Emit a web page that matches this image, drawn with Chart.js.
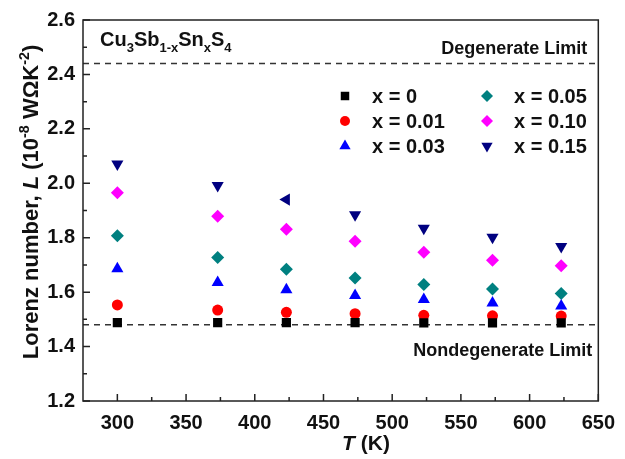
<!DOCTYPE html>
<html>
<head>
<meta charset="utf-8">
<script src="https://cdn.jsdelivr.net/npm/chart.js@4.4.1/dist/chart.umd.min.js"></script>
<style>
  html, body { margin: 0; padding: 0; background: #ffffff; }
  #chart { display: block; }
</style>
</head>
<body>
<canvas id="chart" width="625" height="459"></canvas>
<script>
/* ── Data ────────────────────────────────────────────────── */
const temps = [300, 373, 423, 473, 523, 573, 623];

const L_x000 = [1.488, 1.488, 1.488, 1.488, 1.487, 1.487, 1.487];
const L_x001 = [1.553, 1.534, 1.526, 1.521, 1.515, 1.513, 1.512];
const L_x003 = [1.686, 1.635, 1.609, 1.588, 1.573, 1.560, 1.549];
const L_x005 = [1.807, 1.727, 1.684, 1.652, 1.628, 1.612, 1.595];
const L_x010 = [1.965, 1.879, 1.831, 1.787, 1.747, 1.717, 1.697];
const L_x015 = [2.071, 1.992, 1.940, 1.884, 1.835, 1.802, 1.768];

// the x = 0.15 marker at 423 K is a left-pointing triangle in the original
const rot_x015 = [180, 180, 270, 180, 180, 180, 180];

const seriesLabels = ['x = 0', 'x = 0.01', 'x = 0.03', 'x = 0.05', 'x = 0.10', 'x = 0.15'];

const xTicks = [300, 350, 400, 450, 500, 550, 600, 650];
const xMinor = [325, 375, 425, 475, 525, 575, 625];
const yTicks = [1.2, 1.4, 1.6, 1.8, 2.0, 2.2, 2.4, 2.6];
const yMinor = [1.3, 1.5, 1.7, 1.9, 2.1, 2.3, 2.5];

const degenerateLimit = 2.44;
const nondegenerateLimit = 1.48;

/* ── Theme ───────────────────────────────────────────────── */
const FONT = "'Liberation Sans', Arial, sans-serif";
const AXIS = '#222222';
const DASH = '#333333';

const styles = [
  { color: '#000000', pointStyle: 'rect',     radius: 6.5, rotation: 0 },
  { color: '#ff0000', pointStyle: 'circle',   radius: 5.5, rotation: 0 },
  { color: '#0000ff', pointStyle: 'triangle', radius: 7,   rotation: 0 },
  { color: '#008080', pointStyle: 'rectRot',  radius: 6.5, rotation: 0 },
  { color: '#ff00ff', pointStyle: 'rectRot',  radius: 6.5, rotation: 0 },
  { color: '#000080', pointStyle: 'triangle', radius: 7,   rotation: 180 },
];
const seriesData = [L_x000, L_x001, L_x003, L_x005, L_x010, L_x015];

const datasets = seriesData.map((vals, i) => ({
  label: seriesLabels[i],
  data: temps.map((t, k) => ({ x: t, y: vals[k] })),
  showLine: false,
  pointStyle: styles[i].pointStyle,
  pointRadius: styles[i].radius,
  pointHoverRadius: styles[i].radius,
  pointRotation: i === 5 ? rot_x015 : styles[i].rotation,
  backgroundColor: styles[i].color,
  borderColor: styles[i].color,
  pointBorderWidth: 0,
}));

/* ── Text with sub/superscripts: parts = [[text, kind, italic]] ── */
function drawRich(ctx, parts, x, y, size) {
  let cx = x;
  parts.forEach(([txt, kind, italic]) => {
    let fs = size, dy = 0;
    if (kind === 'sub') { fs = size * 0.65; dy = size * 0.28; }
    if (kind === 'sup') { fs = size * 0.65; dy = -size * 0.42; }
    ctx.font = `${italic ? 'italic ' : ''}bold ${fs}px ${FONT}`;
    ctx.fillText(txt, cx, y + dy);
    cx += ctx.measureText(txt).width;
  });
  return cx - x;
}
function measureRich(ctx, parts, size) {
  let w = 0;
  parts.forEach(([txt, kind, italic]) => {
    const fs = kind ? size * 0.65 : size;
    ctx.font = `${italic ? 'italic ' : ''}bold ${fs}px ${FONT}`;
    w += ctx.measureText(txt).width;
  });
  return w;
}

/* ── Plugin: frame, inward ticks, limits, legend, titles ─── */
const decor = {
  id: 'decor',
  beforeDatasetsDraw(chart) {
    const { ctx, chartArea: a, scales: { y } } = chart;
    ctx.save();
    // dashed limit lines
    ctx.strokeStyle = DASH;
    ctx.lineWidth = 1.5;
    ctx.setLineDash([6, 5]);
    [degenerateLimit, nondegenerateLimit].forEach(v => {
      const py = y.getPixelForValue(v);
      ctx.beginPath();
      ctx.moveTo(a.left, py);
      ctx.lineTo(a.right, py);
      ctx.stroke();
    });
    ctx.setLineDash([]);

    // limit labels
    ctx.fillStyle = '#111';
    ctx.textAlign = 'right';
    ctx.textBaseline = 'alphabetic';
    ctx.font = `bold 18px ${FONT}`;
    ctx.fillText('Degenerate Limit', a.right - 11, y.getPixelForValue(degenerateLimit) - 10);
    ctx.fillText('Nondegenerate Limit', a.right - 6, y.getPixelForValue(nondegenerateLimit) + 31);

    // compound name
    ctx.textAlign = 'left';
    drawRich(ctx, [['Cu'], ['3', 'sub'], ['Sb'], ['1-x', 'sub'], ['Sn'], ['x', 'sub'], ['S'], ['4', 'sub']],
      a.left + 17, a.top + 26, 20);
    ctx.restore();
  },
  afterDraw(chart) {
    const { ctx, chartArea: a, scales: { x, y } } = chart;
    ctx.save();
    // frame
    ctx.strokeStyle = AXIS;
    ctx.lineWidth = 1.5;
    ctx.strokeRect(a.left, a.top, a.right - a.left, a.bottom - a.top);

    // inward ticks (bottom and left only)
    ctx.beginPath();
    xTicks.forEach(v => { const px = x.getPixelForValue(v); ctx.moveTo(px, a.bottom); ctx.lineTo(px, a.bottom - 7); });
    xMinor.forEach(v => { const px = x.getPixelForValue(v); ctx.moveTo(px, a.bottom); ctx.lineTo(px, a.bottom - 4); });
    yTicks.forEach(v => { const py = y.getPixelForValue(v); ctx.moveTo(a.left, py); ctx.lineTo(a.left + 7, py); });
    yMinor.forEach(v => { const py = y.getPixelForValue(v); ctx.moveTo(a.left, py); ctx.lineTo(a.left + 4, py); });
    ctx.stroke();

    // legend, two columns of three
    const colX = [a.left + 262, a.left + 404];
    const rowY = [96, 121, 146];
    ctx.textBaseline = 'middle';
    ctx.textAlign = 'left';
    styles.forEach((s, i) => {
      const cx = colX[Math.floor(i / 3)];
      const cy = rowY[i % 3];
      ctx.fillStyle = s.color;
      Chart.helpers.drawPoint(ctx, {
        pointStyle: s.pointStyle, rotation: s.rotation,
        radius: s.radius - 0.5, borderWidth: 0,
      }, cx, cy);
      ctx.fillStyle = '#111';
      ctx.font = `bold 20px ${FONT}`;
      ctx.fillText(seriesLabels[i], cx + 27, cy + 1);
    });

    // x axis title (sits a little right of centre in the original)
    ctx.textBaseline = 'alphabetic';
    ctx.fillStyle = '#111';
    const xParts = [['T', null, true], [' (K)']];
    const xw = measureRich(ctx, xParts, 21);
    drawRich(ctx, xParts, 366 - xw / 2, 450, 21);

    // y axis title, rotated
    const yParts = [['Lorenz number, '], ['L', null, true], [' (10'], ['-8', 'sup'], [' W\u03A9K'], ['-2', 'sup'], [')']];
    const yw = measureRich(ctx, yParts, 22);
    ctx.translate(38, 202);
    ctx.rotate(-Math.PI / 2);
    drawRich(ctx, yParts, -yw / 2, 0, 22);
    ctx.restore();
  },
};

new Chart(document.getElementById('chart'), {
  type: 'scatter',
  data: { datasets },
  plugins: [decor],
  options: {
    responsive: false,
    animation: false,
    devicePixelRatio: 1,
    layout: { padding: { top: 19, right: 22, left: 0, bottom: 0 } },
    plugins: { legend: { display: false }, tooltip: { enabled: false } },
    scales: {
      x: {
        type: 'linear',
        min: 275,
        max: 650,
        afterBuildTicks: (s) => { s.ticks = xTicks.map(v => ({ value: v })); },
        afterFit: (s) => { s.height = 58; },
        grid: { display: false, drawTicks: false },
        border: { display: false },
        ticks: {
          padding: 10,
          color: '#111',
          font: { family: FONT, size: 20, weight: 'bold' },
          maxRotation: 0,
        },
      },
      y: {
        type: 'linear',
        min: 1.2,
        max: 2.6,
        afterBuildTicks: (s) => { s.ticks = yTicks.map(v => ({ value: v })); },
        afterFit: (s) => { s.width = 83; },
        grid: { display: false, drawTicks: false },
        border: { display: false },
        ticks: {
          padding: 8,
          color: '#111',
          font: { family: FONT, size: 20, weight: 'bold' },
          callback: (v) => Number(v).toFixed(1),
        },
      },
    },
  },
});
</script>
</body>
</html>
